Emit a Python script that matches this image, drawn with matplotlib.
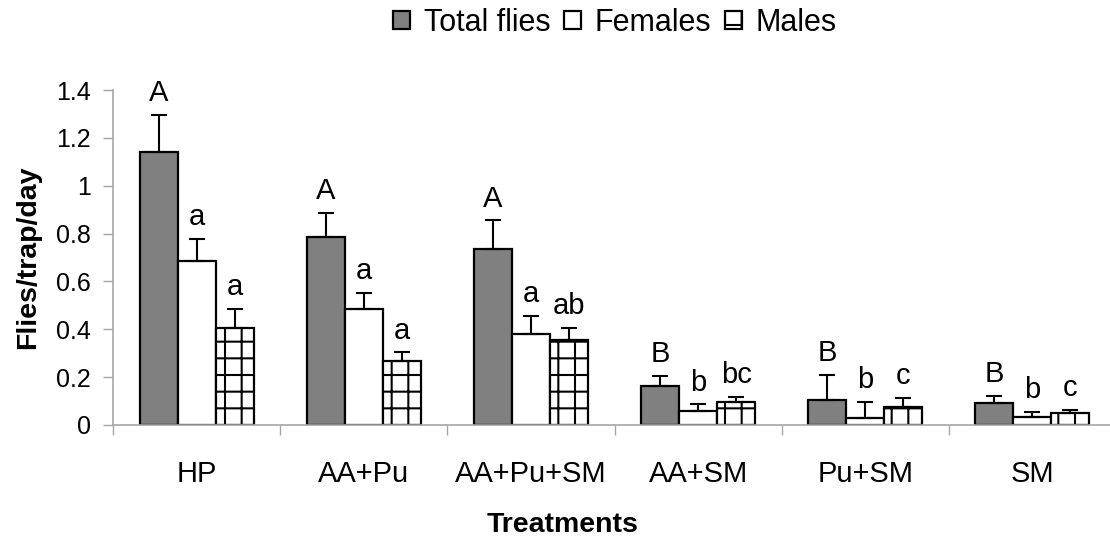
import matplotlib.pyplot as plt
import numpy as np

plt.rcParams['font.family'] = ['Liberation Sans', 'DejaVu Sans']
plt.rcParams['hatch.linewidth'] = 1.5

treatments = ['HP', 'AA+Pu', 'AA+Pu+SM', 'AA+SM', 'Pu+SM', 'SM']

total = [1.14, 0.785, 0.735, 0.163, 0.104, 0.093]
total_err = [0.155, 0.10, 0.12, 0.042, 0.105, 0.028]
total_lab = ['A', 'A', 'A', 'B', 'B', 'B']

females = [0.684, 0.486, 0.38, 0.058, 0.028, 0.035]
females_err = [0.093, 0.065, 0.077, 0.028, 0.069, 0.018]
females_lab = ['a', 'a', 'a', 'b', 'b', 'b']

males = [0.407, 0.269, 0.355, 0.095, 0.077, 0.051]
males_err = [0.077, 0.034, 0.049, 0.023, 0.035, 0.012]
males_lab = ['a', 'a', 'ab', 'bc', 'c', 'c']

fig = plt.figure(figsize=(11.1, 5.39), dpi=100)
ax = fig.add_axes([113 / 1110, 114 / 539, 1003 / 1110, 335 / 539])

x = np.arange(len(treatments)) + 0.5
w = 0.227
gray = '#a6a6a6'

series = [
    (total, total_err, total_lab, '#808080', '', 'Total flies'),
    (females, females_err, females_lab, 'white', '', 'Females'),
    (males, males_err, males_lab, 'white', '+', 'Males'),
]

for i, (vals, errs, labs, col, hatch, name) in enumerate(series):
    pos = x + (i - 1) * w
    ax.bar(pos, vals, w, color=col, edgecolor='black', linewidth=1.6,
           hatch=hatch, label=name, zorder=2)
    ax.errorbar(pos, vals, yerr=[np.zeros(len(vals)), errs], fmt='none',
                ecolor='black', elinewidth=1.5, capsize=6, capthick=1.5, zorder=3)
    for p, v, e, t in zip(pos, vals, errs, labs):
        ax.annotate(t, (p, v + e), xytext=(0, 10), textcoords='offset points',
                    ha='center', va='baseline', fontsize=21)

ax.set_xlim(0, 6)
ax.set_ylim(0, 1.4)
ax.set_yticks(np.arange(0, 1.41, 0.2))
ax.set_yticklabels(['0', '0.2', '0.4', '0.6', '0.8', '1', '1.2', '1.4'])
ax.set_xticks(np.arange(0, 7))
ax.set_xticklabels([])
ax.set_xticks(x, minor=True)
ax.set_xticklabels(treatments, minor=True)

ax.tick_params(axis='y', length=7, width=1, color=gray, labelsize=18, pad=9)
ax.tick_params(axis='x', which='major', length=7, width=1, color=gray)
ax.tick_params(axis='x', which='minor', length=0, labelsize=21, pad=25)

for s in ['top', 'right']:
    ax.spines[s].set_visible(False)
for s in ['left', 'bottom']:
    ax.spines[s].set_color(gray)
    ax.spines[s].set_linewidth(1.2)

ax.set_ylabel('Flies/trap/day', fontsize=20.5, fontweight='bold')
ax.yaxis.set_label_coords(-0.072, 0.5)
fig.text(563 / 1110, 7 / 539, 'Treatments', fontsize=20.5, fontweight='bold',
         ha='center', va='baseline')

fig.legend(loc='center', bbox_to_anchor=(615 / 1110, 1 - 23 / 539), ncol=3, frameon=False,
           fontsize=22, handlelength=0.55, handleheight=0.55, handletextpad=0.45,
           columnspacing=0.45, borderpad=0)

fig.savefig('out.png', dpi=100)
